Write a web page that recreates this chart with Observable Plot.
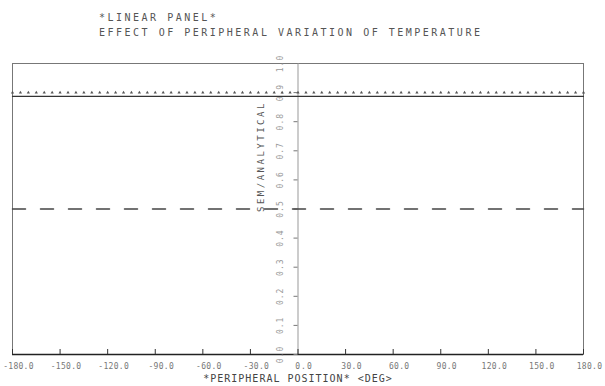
<!DOCTYPE html>
<html><head><meta charset="utf-8">
<script src="https://cdn.jsdelivr.net/npm/d3@7"></script>
<script src="https://cdn.jsdelivr.net/npm/@observablehq/plot@0.6"></script>
<style>
body{margin:0;background:#fff;}
#wrap{position:relative;width:605px;height:386px;overflow:hidden;font-family:"DejaVu Sans Mono",monospace;background:#fff;}
.t{position:absolute;left:99px;font-size:10px;line-height:10px;letter-spacing:2.5px;color:#555;white-space:pre;}
#chart{position:absolute;left:0;top:40px;}
</style></head><body>
<div id="wrap">
<div class="t" id="t1" style="top:13px"></div>
<div class="t" id="t2" style="top:28px"></div>
<div id="chart"></div>
</div>
<script>
const titleLines = ["*LINEAR PANEL*", "EFFECT OF PERIPHERAL VARIATION OF TEMPERATURE"];
const xLabel = "*PERIPHERAL POSITION* <DEG>";
const yLabel = "SEM/ANALYTICAL";
const xTicks = [-180, -150, -120, -90, -60, -30, 0, 30, 60, 90, 120, 150, 180];
const yTicks = [0.0, 0.1, 0.2, 0.3, 0.4, 0.5, 0.6, 0.7, 0.8, 0.9, 1.0];
const positions = [-180, -175, -170, -165, -160, -155, -150, -145, -140, -135, -130, -125, -120, -115, -110, -105, -100, -95, -90, -85, -80, -75, -70, -65, -60, -55, -50, -45, -40, -35, -30, -25, -20, -15, -10, -5, 0, 5, 10, 15, 20, 25, 30, 35, 40, 45, 50, 55, 60, 65, 70, 75, 80, 85, 90, 95, 100, 105, 110, 115, 120, 125, 130, 135, 140, 145, 150, 155, 160, 165, 170, 175, 180];
const dottedValues = [0.90, 0.90, 0.90, 0.90, 0.90, 0.90, 0.90, 0.90, 0.90, 0.90, 0.90, 0.90, 0.90, 0.90, 0.90, 0.90, 0.90, 0.90, 0.90, 0.90, 0.90, 0.90, 0.90, 0.90, 0.90, 0.90, 0.90, 0.90, 0.90, 0.90, 0.90, 0.90, 0.90, 0.90, 0.90, 0.90, 0.90, 0.90, 0.90, 0.90, 0.90, 0.90, 0.90, 0.90, 0.90, 0.90, 0.90, 0.90, 0.90, 0.90, 0.90, 0.90, 0.90, 0.90, 0.90, 0.90, 0.90, 0.90, 0.90, 0.90, 0.90, 0.90, 0.90, 0.90, 0.90, 0.90, 0.90, 0.90, 0.90, 0.90, 0.90, 0.90, 0.90];
const solidValues = [0.887, 0.887, 0.887, 0.887, 0.887, 0.887, 0.887, 0.887, 0.887, 0.887, 0.887, 0.887, 0.887, 0.887, 0.887, 0.887, 0.887, 0.887, 0.887, 0.887, 0.887, 0.887, 0.887, 0.887, 0.887, 0.887, 0.887, 0.887, 0.887, 0.887, 0.887, 0.887, 0.887, 0.887, 0.887, 0.887, 0.887, 0.887, 0.887, 0.887, 0.887, 0.887, 0.887, 0.887, 0.887, 0.887, 0.887, 0.887, 0.887, 0.887, 0.887, 0.887, 0.887, 0.887, 0.887, 0.887, 0.887, 0.887, 0.887, 0.887, 0.887, 0.887, 0.887, 0.887, 0.887, 0.887, 0.887, 0.887, 0.887, 0.887, 0.887, 0.887, 0.887];
const dashedValues = [0.50, 0.50, 0.50, 0.50, 0.50, 0.50, 0.50, 0.50, 0.50, 0.50, 0.50, 0.50, 0.50, 0.50, 0.50, 0.50, 0.50, 0.50, 0.50, 0.50, 0.50, 0.50, 0.50, 0.50, 0.50, 0.50, 0.50, 0.50, 0.50, 0.50, 0.50, 0.50, 0.50, 0.50, 0.50, 0.50, 0.50, 0.50, 0.50, 0.50, 0.50, 0.50, 0.50, 0.50, 0.50, 0.50, 0.50, 0.50, 0.50, 0.50, 0.50, 0.50, 0.50, 0.50, 0.50, 0.50, 0.50, 0.50, 0.50, 0.50, 0.50, 0.50, 0.50, 0.50, 0.50, 0.50, 0.50, 0.50, 0.50, 0.50, 0.50, 0.50, 0.50];

document.getElementById("t1").textContent = titleLines[0];
document.getElementById("t2").textContent = titleLines[1];

const rows = positions.map((p, i) => ({p, dotted: dottedValues[i], solid: solidValues[i], dashed: dashedValues[i]}));

const chart = Plot.plot({
  width: 605, height: 346,
  marginTop: 23, marginBottom: 32, marginLeft: 12, marginRight: 22,
  x: {domain: [-180, 180], axis: null},
  y: {domain: [0, 1], axis: null},
  style: {fontFamily: "DejaVu Sans Mono, monospace", background: "white", overflow: "visible"},
  marks: [
    Plot.frame({stroke: "#777", strokeWidth: 1}),
    Plot.ruleX([0], {y1: 0, y2: 1, stroke: "#999", strokeWidth: 1}),
    Plot.ruleY([0], {stroke: "#222", strokeWidth: 1.6}),
    Plot.ruleX(xTicks, {x: d => d, y1: 0, y2: 0, insetTop: -5, stroke: "#333"}),
    Plot.ruleY(yTicks, {y: d => d, x1: 0, x2: 0, insetLeft: -4, stroke: "#777"}),
    Plot.text(xTicks, {x: d => d, y: 0, dy: 12, dx: 6, text: d => d.toFixed(1), fontSize: 8, fill: "#777"}),
    Plot.text(yTicks, {x: 0, y: d => d, dx: -18, rotate: -90, text: d => d.toFixed(1), fontSize: 8, fill: "#999"}),
    Plot.text([yLabel], {x: 0, y: 0.68, dx: -37, rotate: -90, text: d => d, fontSize: 9, fill: "#555"}),
    Plot.text([xLabel], {frameAnchor: "bottom", dy: 27, text: d => d, fontSize: 10, fill: "#444"}),
    Plot.lineY(rows, {x: "p", y: "solid", stroke: "#333", strokeWidth: 1.2}),
    Plot.lineY(rows, {x: "p", y: "dashed", stroke: "#444", strokeWidth: 1.5, strokeDasharray: "13,15"}),
    Plot.dot(rows, {x: "p", y: "dotted", symbol: "triangle", r: 1.2, fill: "#555", stroke: "none"})
  ]
});
chart.querySelectorAll("text").forEach(t => {
  const s = t.textContent;
  if (s === yLabel) t.style.letterSpacing = "2.5px";
  else if (s === xLabel) t.style.letterSpacing = "1px";
  else if (/^-?\d+\.\d$/.test(s)) t.style.letterSpacing = s.length <= 3 ? "1px" : "0.3px";
});
document.getElementById("chart").appendChild(chart);
</script>
</body></html>
